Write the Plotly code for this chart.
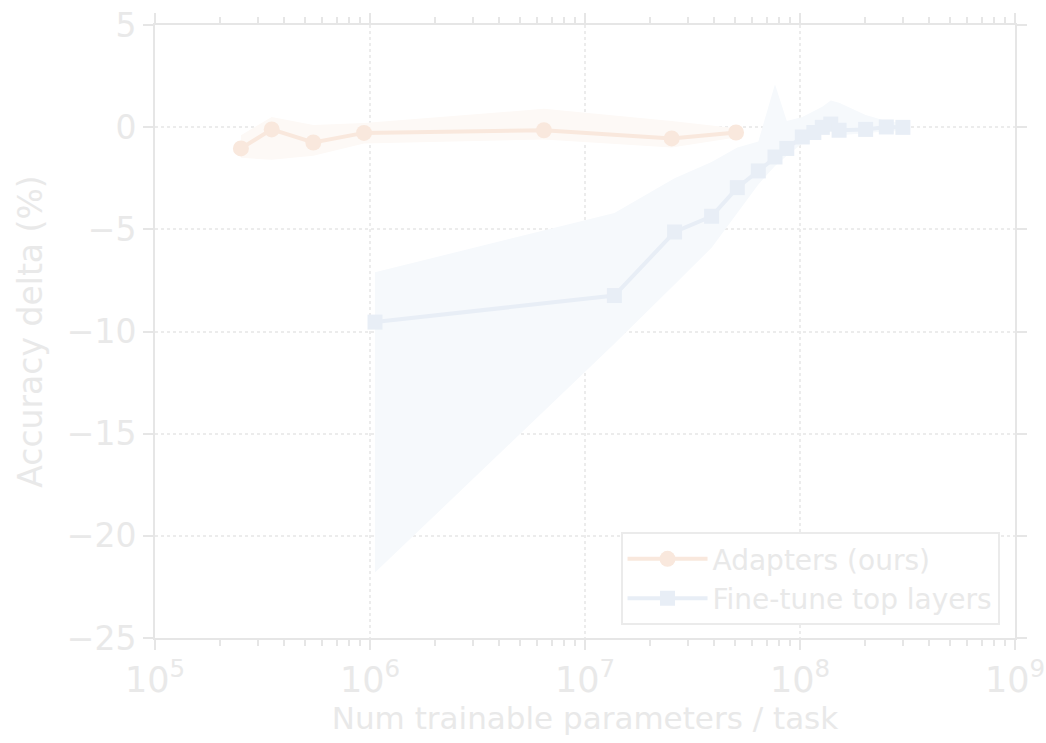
import plotly.graph_objects as go

# Adapters (ours): trainable params per task vs. accuracy delta, with spread band
adapter_params = [2.51e5, 3.49e5, 5.45e5, 9.38e5, 6.44e6, 2.53e7, 5.04e7]
adapter_delta = [-1.04, -0.11, -0.75, -0.28, -0.15, -0.55, -0.26]
adapter_upper = [-0.4, 0.5, 0.1, 0.2, 0.9, 0.3, -0.05]
adapter_lower = [-1.5, -1.6, -1.4, -0.8, -0.6, -1.0, -0.5]

# Fine-tune top layers
ft_params = [1.055e6, 1.37e7, 2.61e7, 3.88e7, 5.11e7, 6.40e7, 7.65e7, 8.68e7,
             1.025e8, 1.16e8, 1.27e8, 1.39e8, 1.52e8, 2.02e8, 2.52e8, 3.01e8]
ft_delta = [-9.54, -8.24, -5.13, -4.36, -2.96, -2.14, -1.46, -1.04,
            -0.48, -0.26, -0.01, 0.15, -0.15, -0.11, 0.01, -0.01]
ft_upper = [-7.1, -4.2, -2.5, -1.7, -1.0, -0.7, 2.1, 0.3,
            0.5, 0.8, 1.0, 1.3, 1.2, 0.6, 0.3, 0.2]
ft_lower = [-21.8, -10.6, -7.7, -5.9, -4.2, -2.8, -1.9, -1.4,
            -0.8, -0.5, -0.3, -0.2, -0.4, -0.3, -0.2, -0.2]

x_tickvals = [1e5, 1e6, 1e7, 1e8, 1e9]
x_ticktext = ["10<sup>5</sup>", "10<sup>6</sup>", "10<sup>7</sup>",
              "10<sup>8</sup>", "10<sup>9</sup>"]

ORANGE = "#f9e8dd"
BLUE = "#e8eef6"
ORANGE_BAND = "#fdf9f6"
BLUE_BAND = "#f6f9fc"
TEXT = "#e9e9e9"
AXIS = "#e6e6e6"
GRID = "#ececec"

fig = go.Figure()

# spread bands
fig.add_trace(go.Scatter(x=ft_params, y=ft_upper, mode="lines", line=dict(width=0),
                         showlegend=False, hoverinfo="skip"))
fig.add_trace(go.Scatter(x=ft_params, y=ft_lower, mode="lines", line=dict(width=0),
                         fill="tonexty", fillcolor=BLUE_BAND,
                         showlegend=False, hoverinfo="skip"))
fig.add_trace(go.Scatter(x=adapter_params, y=adapter_upper, mode="lines", line=dict(width=0),
                         showlegend=False, hoverinfo="skip"))
fig.add_trace(go.Scatter(x=adapter_params, y=adapter_lower, mode="lines", line=dict(width=0),
                         fill="tonexty", fillcolor=ORANGE_BAND,
                         showlegend=False, hoverinfo="skip"))

# mean curves
fig.add_trace(go.Scatter(x=adapter_params, y=adapter_delta, mode="lines+markers",
                         name="Adapters (ours)", legendgroup="a",
                         line=dict(color=ORANGE, width=4),
                         marker=dict(symbol="circle", size=16, color=ORANGE)))
fig.add_trace(go.Scatter(x=ft_params, y=ft_delta, mode="lines+markers",
                         name="Fine-tune top layers", legendgroup="b",
                         line=dict(color=BLUE, width=4),
                         marker=dict(symbol="square", size=15, color=BLUE)))

fig.update_layout(
    width=1046, height=743,
    margin=dict(l=155, r=31, t=25, b=105),
    paper_bgcolor="white", plot_bgcolor="white",
    font=dict(family="DejaVu Sans", color=TEXT, size=28),
    legend=dict(x=0.982, y=0.021, xanchor="right", yanchor="bottom",
                traceorder="normal",
                bordercolor="#ebebeb", borderwidth=2, bgcolor="white",
                font=dict(size=28, color=TEXT), itemwidth=80,
                tracegroupgap=5),
)

fig.update_xaxes(
    type="log", range=[5, 9], automargin=False, ticklabeloverflow="allow",
    tickvals=x_tickvals, ticktext=x_ticktext,
    tickfont=dict(size=35, color=TEXT),
    title=dict(text="Num trainable parameters / task",
               font=dict(size=31, color=TEXT), standoff=4),
    showline=True, linecolor=AXIS, linewidth=2, mirror="ticks",
    ticks="outside", ticklen=10, tickwidth=2, tickcolor=AXIS,
    minor=dict(ticks="outside", ticklen=6, tickwidth=2, tickcolor=AXIS, dtick="D1",
               showgrid=False),
    showgrid=True, gridcolor=GRID, griddash="dot", gridwidth=1.5,
    zeroline=False,
)
fig.update_yaxes(
    range=[-25, 5], dtick=5, automargin=False,
    tickfont=dict(size=33, color=TEXT),
    title=dict(text="Accuracy delta (%)", font=dict(size=33, color=TEXT), standoff=14),
    showline=True, linecolor=AXIS, linewidth=2, mirror="ticks",
    ticks="outside", ticklen=10, tickwidth=2, tickcolor=AXIS,
    showgrid=True, gridcolor=GRID, griddash="dot", gridwidth=1.5,
    zeroline=False,
)

fig.write_html("out.html")
